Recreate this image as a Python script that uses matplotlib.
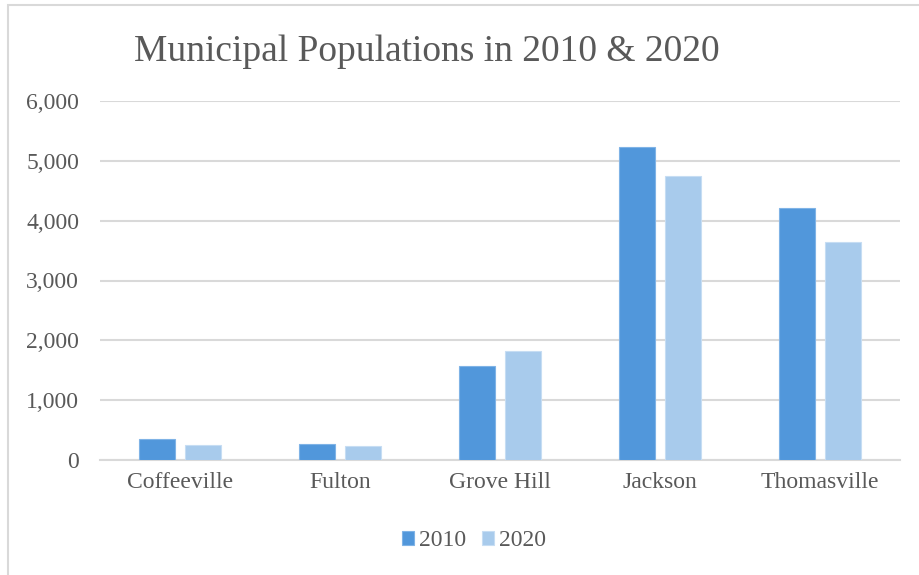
import matplotlib
matplotlib.use("Agg")
import matplotlib.pyplot as plt
from matplotlib.patches import Rectangle
import numpy as np

categories = ["Coffeeville", "Fulton", "Grove Hill", "Jackson", "Thomasville"]
pop_2010 = [352, 272, 1570, 5228, 4209]
pop_2020 = [255, 226, 1818, 4748, 3650]
series_labels = ["2010", "2020"]
yticks = [0, 1000, 2000, 3000, 4000, 5000, 6000]
title = "Municipal Populations in 2010 & 2020"

plt.rcParams['font.family'] = ['Liberation Serif', 'DejaVu Serif']
GREY = "#595959"
GRID = "#d9d9d9"
C2010 = "#5197DB"
C2020 = "#A8CBEC"

fig = plt.figure(figsize=(9.2, 5.75), dpi=100)
fig.patch.set_facecolor("white")

# outer chart border (cropped at right and bottom)
fig.patches.append(Rectangle((8/920, -0.1), 1.2, 1 - 5/575 + 0.1, transform=fig.transFigure,
                             fill=False, edgecolor=GRID, linewidth=1.5))

ax = fig.add_axes([100/920, 1 - 460/575, 800/920, (460 - 101)/575])
x = np.arange(len(categories))
w = 0.225
off = 0.144
ax.bar(x - off, pop_2010, width=w, color=C2010, edgecolor="#7fb3e6", linewidth=0.8,
       label=series_labels[0], zorder=3)
ax.bar(x + off, pop_2020, width=w, color=C2020, edgecolor="#c6ddf3", linewidth=0.8,
       label=series_labels[1], zorder=3)

ax.set_xlim(-0.5, len(categories) - 0.5)
ax.set_ylim(0, 6000)
ax.set_yticks(yticks)
ax.set_yticklabels([f"{v:,}" for v in yticks])
ax.set_xticks(x)
ax.set_xticklabels(categories)
ax.tick_params(axis="y", length=0, pad=15, labelsize=17, labelcolor=GREY)
ax.tick_params(axis="x", length=0, pad=9, labelsize=17, labelcolor=GREY)
ax.grid(axis="y", color=GRID, linewidth=1.5, zorder=0)
ax.set_axisbelow(True)
for s in ["top", "right", "left"]:
    ax.spines[s].set_visible(False)
ax.spines["bottom"].set_color(GRID)
ax.spines["bottom"].set_linewidth(1.5)

fig.text(427/920, 1 - 52/575, title, fontsize=27, color=GREY, ha="center", va="center")

leg = fig.legend(loc="center", bbox_to_anchor=(474/920, 1 - 541/575), ncol=2, frameon=False,
                 fontsize=17, handlelength=0.5, handleheight=0.5, handletextpad=0.2,
                 columnspacing=0.7)
for t in leg.get_texts():
    t.set_color(GREY)

fig.savefig("out.png", dpi=100, facecolor="white")
